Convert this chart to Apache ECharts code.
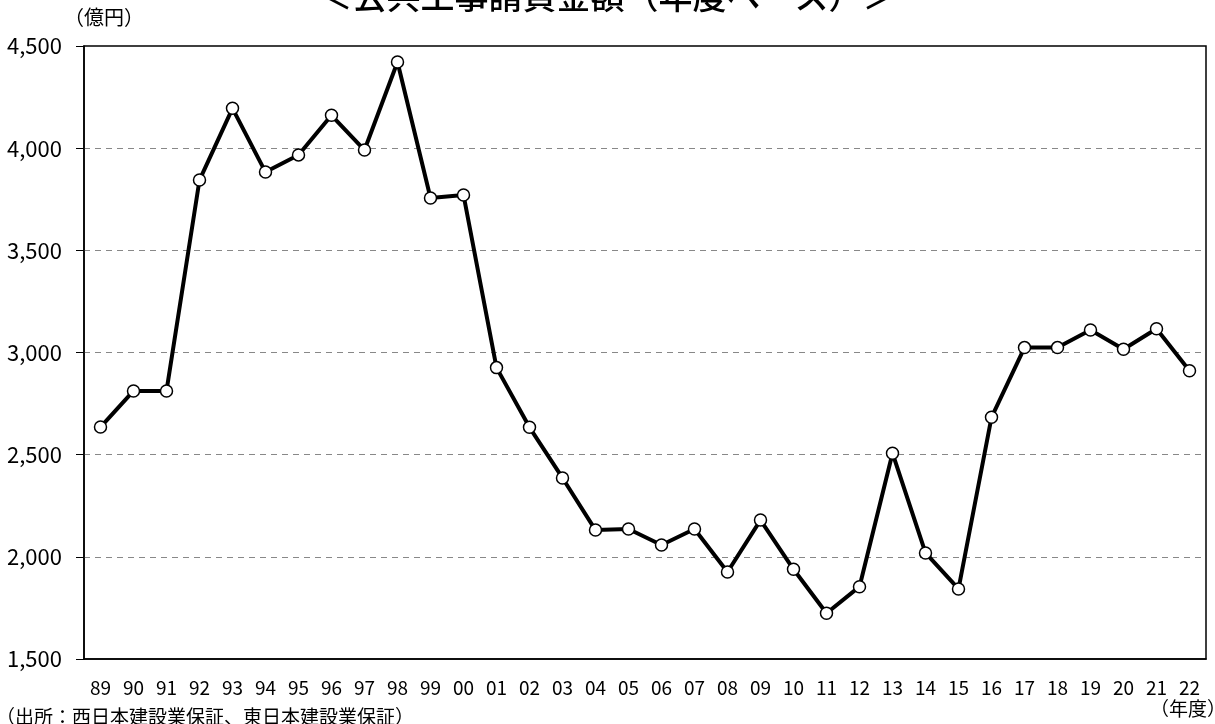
<!DOCTYPE html>
<html>
<head>
<meta charset="utf-8">
<script src="https://cdn.jsdelivr.net/npm/echarts@6/dist/echarts.min.js"></script>
<style>
html,body{margin:0;padding:0;background:#fff;}
#main{width:1215px;height:724px;}
</style>
</head>
<body>
<div id="main"></div>
<script>
// 年度ラベル
var years = ['89','90','91','92','93','94','95','96','97','98','99','00','01','02','03','04','05','06','07','08','09','10','11','12','13','14','15','16','17','18','19','20','21','22'];
// 公共工事請負金額（億円）
var amounts = [2635,2812,2812,3844,4195,3883,3967,4161,3991,4422,3756,3771,2926,2634,2386,2131,2136,2058,2136,1926,2180,1939,1724,1854,2507,2019,1843,2683,3024,3024,3110,3016,3116,2911];
var yTicks = {min:1500, max:4500, step:500};

var font = 'Noto Sans CJK JP';

function txt(text, left, top, size, weight){
	return {type:'text', left:left, top:top, style:{text:text, fontSize:size, fontFamily:font, fontWeight:weight || 'normal', fill:'#000'}};
}

function drawChart(id){
	var option = {
		backgroundColor:'#fff',
		animation:false,
		textStyle:{fontFamily:font},
		grid:{
			left:84, right:9, top:46, bottom:65,
			show:true, borderColor:'#000', borderWidth:1.5
		},
		graphic:[
			txt('＜公共工事請負金額（年度ベース）＞', 'center', -21, 34, 500),
			txt('（億円）', 64, 7, 20),
			txt('（年度）', 1150, 699, 19),
			txt('（出所：西日本建設業保証、東日本建設業保証）', -4, 707, 19)
		],
		xAxis:{
			type:'category',
			data:years,
			boundaryGap:true,
			axisLine:{lineStyle:{color:'#000', width:1.5}},
			axisTick:{inside:true, length:7, alignWithLabel:false, lineStyle:{color:'#000'}},
			axisLabel:{color:'#000', fontSize:19, margin:19, interval:0}
		},
		yAxis:{
			type:'value',
			min:yTicks.min, max:yTicks.max, interval:yTicks.step,
			axisLine:{show:true, lineStyle:{color:'#000', width:1.5}},
			axisTick:{show:true, length:8, lineStyle:{color:'#000'}},
			axisLabel:{color:'#000', fontSize:22, margin:22, formatter:function(v){return v.toLocaleString('en-US');}},
			splitLine:{show:true, showMaxLine:false, showMinLine:false, lineStyle:{color:'#888', type:[6,5], width:1.2}}
		},
		series:[{
			type:'line',
			data:amounts,
			symbol:'circle',
			symbolSize:12,
			lineStyle:{color:'#000', width:4},
			itemStyle:{color:'#fff', borderColor:'#000', borderWidth:1.5},
			z:3
		}]
	};
	//初期化
	var myChart = echarts.init(document.getElementById(id));
	myChart.setOption(option);
}
drawChart('main');
</script>
</body>
</html>
